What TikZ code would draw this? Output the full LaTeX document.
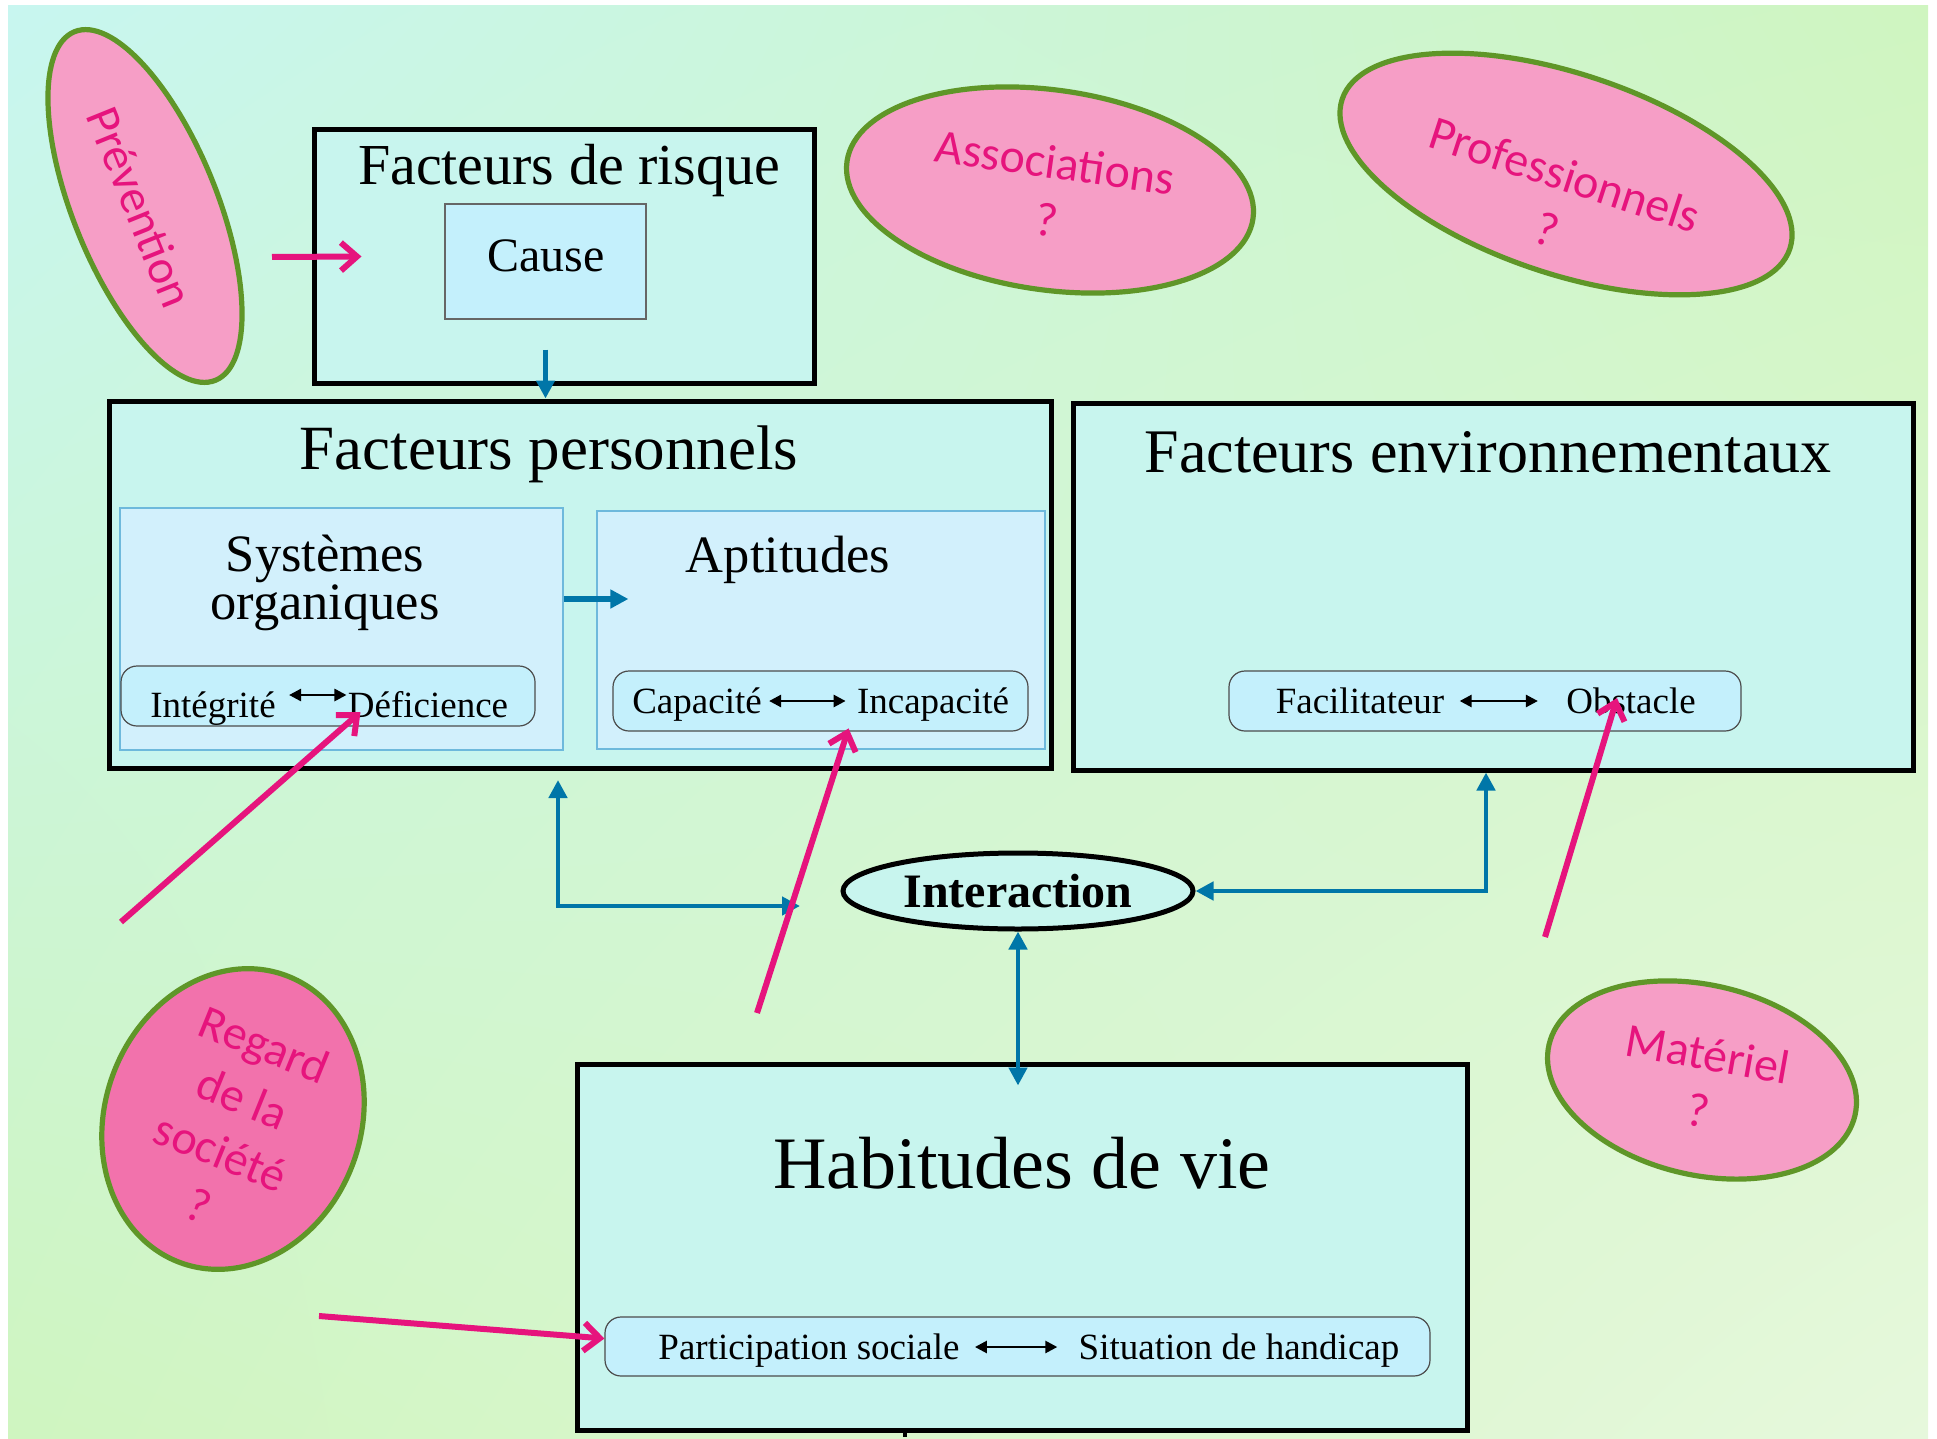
\documentclass[tikz,border=0pt]{standalone}
\usepackage{fontspec}
\setmainfont{Liberation Serif}
\newfontfamily\blobfont{Carlito}
\usetikzlibrary{arrows.meta,fit,shapes.geometric,shadings}
\definecolor{bgcyan}{RGB}{200,246,240}
\definecolor{bggreen}{RGB}{207,245,192}
\definecolor{bgpale}{RGB}{230,248,220}
\definecolor{boxfill}{RGB}{200,245,238}
\definecolor{innerfill}{RGB}{210,240,252}
\definecolor{pillfill}{RGB}{196,240,252}
\definecolor{innerline}{RGB}{110,185,220}
\definecolor{linkblue}{RGB}{0,118,168}
\definecolor{blobpink}{RGB}{246,158,198}
\definecolor{blobdeep}{RGB}{242,114,172}
\definecolor{blobline}{RGB}{95,150,40}
\definecolor{blobtext}{RGB}{230,20,125}

\begin{document}
\begin{tikzpicture}[x=0.5pt,y=-0.5pt,
  bigbox/.style={draw=black, line width=2.5pt, fill=boxfill, inner sep=0pt},
  subbox/.style={draw=innerline, line width=0.6pt, fill=innerfill, inner sep=0pt},
  causebox/.style={draw=black!60, line width=0.7pt, fill=pillfill, inner sep=0pt},
  pill/.style={draw=black!70, line width=0.6pt, fill=pillfill, rounded corners=8pt, inner sep=0pt},
  title/.style={anchor=base, inner sep=0pt},
  word/.style={anchor=base, inner sep=0pt, text height=13pt, text depth=4pt, font=\fontsize{18.5pt}{22pt}\selectfont},
  twoway/.style={{Triangle[length=6pt,width=6pt]}-{Triangle[length=6pt,width=6pt]}, line width=1.3pt},
  flow/.style={draw=linkblue, line width=2.3pt, -{Triangle[length=9pt,width=9pt]}},
  bothflow/.style={draw=linkblue, line width=2.3pt, {Triangle[length=9pt,width=9pt]}-{Triangle[length=9pt,width=9pt]}},
  hint/.style={draw=blobtext, line width=3pt, -{Straight Barb[length=8pt,width=14pt]}},
  blob/.style={ellipse, draw=blobline, line width=2.6pt, fill=blobpink, inner sep=0pt},
  blobtxt/.style={text=blobtext, align=center, inner sep=0pt, font=\blobfont\fontsize{24pt}{29pt}\selectfont}]
\useasboundingbox (0,0) rectangle (1937,1439);
\shade[upper left=bgcyan, upper right=bggreen, lower left=bggreen, lower right=bgpale] (8,6) rectangle (1928,1439);

\node[blob, minimum width=188pt, minimum height=72pt, rotate=-68] (prevention) at (145,206) {};
\node[blob, minimum width=205pt, minimum height=100pt, rotate=-8] (associations) at (1050,190) {};
\node[blob, minimum width=236pt, minimum height=100pt, rotate=-18.5] (professionnels) at (1566,174) {};
\node[blob, fill=blobdeep, minimum width=128pt, minimum height=153pt, rotate=-20] (regard) at (233,1119) {};
\node[blob, minimum width=157pt, minimum height=95pt, rotate=-13] (materiel) at (1702,1080) {};
\node[blobtxt, rotate=-68] (prevention-txt) at (140,207) {Prévention};
\node[blobtxt, rotate=-8] (associations-txt) at (1051,191) {Associations\\?};
\node[blobtxt, rotate=-18] (professionnels-txt) at (1556,202) {Professionnels\\?};
\node[blobtxt, rotate=-22] (regard-txt) at (232,1125) {Regard\\de la\\société\\?};
\node[blobtxt, rotate=-10] (materiel-txt) at (1703,1082) {Matériel\\?};

\node[bigbox, fit={(314,130) (814,383)}] (risque) {};
\node[causebox, fit={(445,204) (646,319)}] (cause) {};
\node[title, font=\fontsize{29pt}{34pt}\selectfont] (risque-title) at (569,185) {Facteurs de risque};
\node[title, font=\fontsize{24pt}{28pt}\selectfont] (cause-title) at (546,271) {Cause};

\node[bigbox, fit={(109,401) (1051,768)}] (personnels) {};
\node[title, font=\fontsize{31.5pt}{36pt}\selectfont] (personnels-title) at (549,469) {Facteurs personnels};
\node[subbox, fit={(120,508) (563,750)}] (systemes) {};
\node[subbox, fit={(597,511) (1045,749)}] (aptitudes) {};
\node[inner sep=0pt, align=center, font=\fontsize{26.25pt}{24pt}\selectfont] (systemes-title) at (325,583) {Systèmes\\organiques};
\node[title, font=\fontsize{26.25pt}{30pt}\selectfont] (aptitudes-title) at (788,572) {Aptitudes};
\node[pill, fit={(121,666) (535,726)}] (integ-pill) {};
\node[word] (integ) at (213,717) {Intégrité};
\node[word] (defic) at (428,717) {Déficience};
\node[pill, fit={(613,671) (1028,731)}] (capac-pill) {};
\node[word] (capac) at (697,713) {Capacité};
\node[word] (incap) at (933,713) {Incapacité};

\node[bigbox, fit={(1073,403) (1913,770)}] (environnement) {};
\node[title, font=\fontsize{31pt}{35pt}\selectfont] (environnement-title) at (1488,472) {Facteurs environnementaux};
\node[pill, fit={(1229,671) (1741,731)}] (facil-pill) {};
\node[word] (facil) at (1360,713) {Facilitateur};
\node[word] (obst) at (1631,713) {Obstacle};

\node[ellipse, draw=black, line width=2.5pt, fill=boxfill, inner sep=0pt, minimum width=175pt, minimum height=38pt, font=\bfseries\fontsize{24pt}{28pt}\selectfont] (interaction) at (1018,891) {Interaction};

\node[bigbox, fit={(577,1064) (1467,1430)}] (habitudes) {};
\node[title, font=\fontsize{37pt}{42pt}\selectfont] (habitudes-title) at (1022,1188) {Habitudes de vie};
\node[pill, fit={(605,1317) (1430,1376)}] (part-pill) {};
\node[word] (particip) at (809,1359) {Participation sociale};
\node[word] (situation) at (1239,1359) {Situation de handicap};
\draw[line width=2pt] (905,1430) -- (905,1437);

\draw[twoway, shorten <=6.5pt, shorten >=0.5pt] ([yshift=6.5pt]integ.east) -- ([yshift=6.5pt]defic.west);
\draw[twoway, shorten <=3.5pt, shorten >=5.5pt] ([yshift=1.5pt]capac.east) -- ([yshift=1.5pt]incap.west);
\draw[twoway, shorten <=7.5pt, shorten >=14pt] ([yshift=1.5pt]facil.east) -- ([yshift=1.5pt]obst.west);
\draw[twoway, shorten <=7.5pt, shorten >=10.5pt] ([yshift=1.5pt]particip.east) -- ([yshift=1.5pt]situation.west);

\coordinate (pers-foot) at (558,780);
\coordinate (inter-left) at (800,906);
\draw[flow, shorten <=15pt] (cause.south) -- (cause.south |- personnels.north);
\draw[flow, line width=3pt] ([yshift=15pt]systemes.east) -- ([yshift=15.5pt,xshift=16pt]aptitudes.west);
\draw[bothflow] (pers-foot) |- (inter-left);
\draw[bothflow] (interaction.east) -| ([xshift=-3.5pt]environnement.south);
\draw[bothflow] (interaction.south) -- ([yshift=-12pt]interaction.south |- habitudes.north);

\coordinate (prev-tail) at (272,257);
\coordinate (soc-tail) at (121,922);
\coordinate (mid-tail) at (757,1013);
\coordinate (mat-tail) at (1545,937);
\coordinate (low-tail) at (319,1316);
\draw[hint] (prev-tail) -- ([xshift=25pt]risque.west);
\draw[hint] (soc-tail) -- ([xshift=6.5pt,yshift=2.5pt]defic.base west);
\draw[hint] (mid-tail) -- ([xshift=-4pt,yshift=-3.5pt]incap.south west);
\draw[hint] (mat-tail) -- ([xshift=-7pt,yshift=7.5pt]obst.base);
\draw[hint] (low-tail) -- ([yshift=4pt]part-pill.west);
\end{tikzpicture}
\end{document}
